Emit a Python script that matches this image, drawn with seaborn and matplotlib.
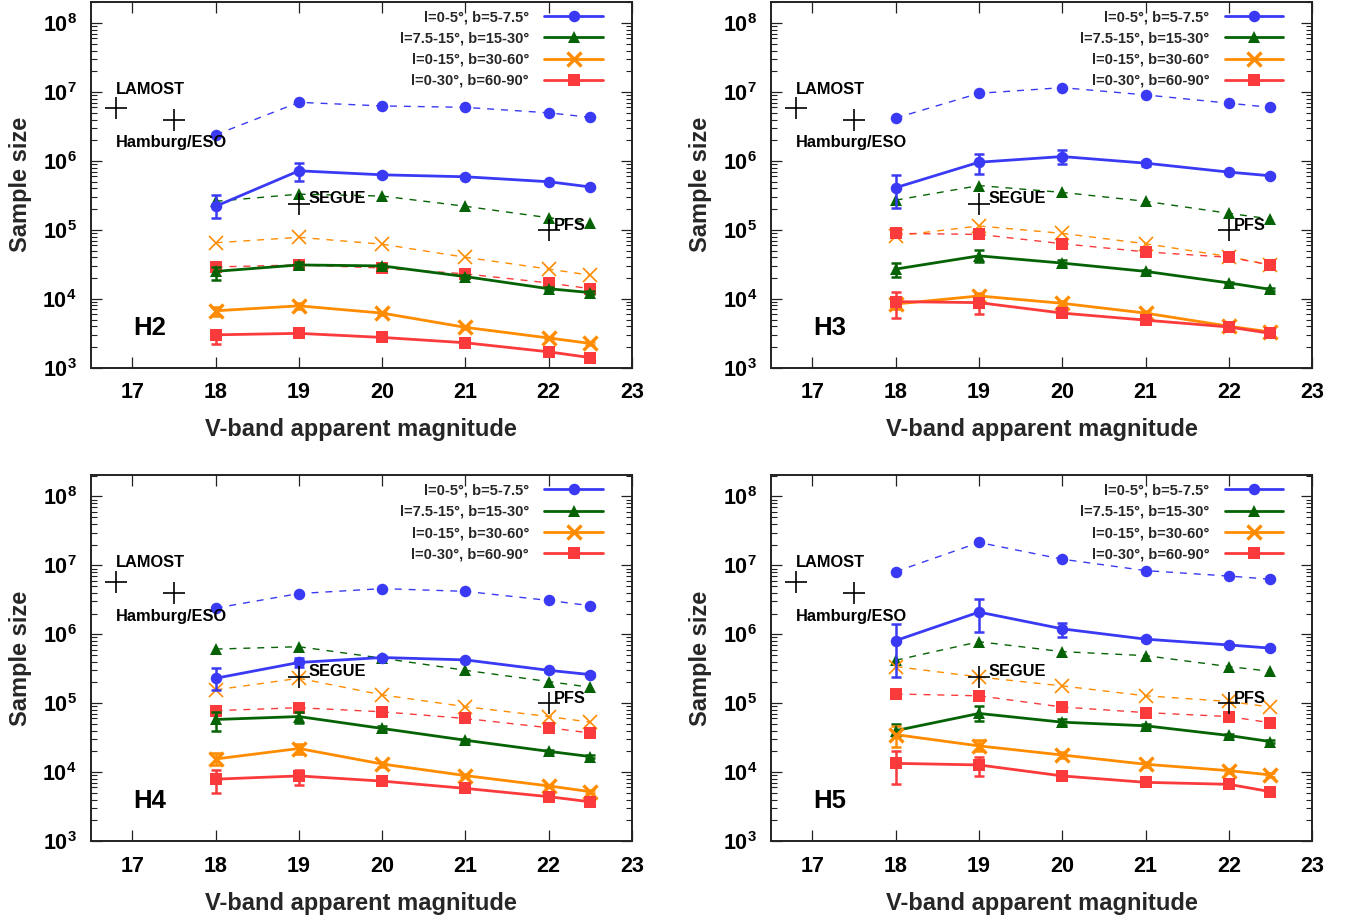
import numpy as np
import pandas as pd
import matplotlib
matplotlib.use("Agg")
import matplotlib.pyplot as plt
import seaborn as sns
from matplotlib.lines import Line2D
from matplotlib.ticker import FixedLocator, FuncFormatter, LogLocator, NullFormatter, NullLocator

# ---------------- data ----------------
mags = [18, 19, 20, 21, 22, 22.5]
series_labels = ["l=0-5°, b=5-7.5°", "l=7.5-15°, b=15-30°",
                 "l=0-15°, b=30-60°", "l=0-30°, b=60-90°"]
series_colors = ["#3a3af4", "#056305", "#ff8c00", "#fb3b3b"]
series_markers = ["o", "^", "x", "s"]
panel_names = ["H2", "H3", "H4", "H5"]

# dashed (upper) curves
H2_dashed = [[2.4e6, 7.1e6, 6.3e6, 6.0e6, 5.0e6, 4.3e6],
             [2.6e5, 3.3e5, 3.1e5, 2.2e5, 1.5e5, 1.28e5],
             [6.5e4, 7.8e4, 6.2e4, 4.0e4, 2.7e4, 2.2e4],
             [2.9e4, 3.1e4, 2.8e4, 2.3e4, 1.7e4, 1.4e4]]
H3_dashed = [[4.2e6, 9.6e6, 1.16e7, 9.1e6, 6.9e6, 6.0e6],
             [2.7e5, 4.4e5, 3.5e5, 2.6e5, 1.74e5, 1.44e5],
             [8.2e4, 1.14e5, 8.9e4, 6.3e4, 4.1e4, 3.1e4],
             [8.9e4, 8.6e4, 6.3e4, 4.8e4, 4.0e4, 3.1e4]]
H4_dashed = [[2.4e6, 3.9e6, 4.6e6, 4.2e6, 3.1e6, 2.6e6],
             [6.1e5, 6.6e5, 4.5e5, 3.0e5, 2.06e5, 1.7e5],
             [1.56e5, 2.3e5, 1.32e5, 8.9e4, 6.4e4, 5.3e4],
             [7.8e4, 8.6e4, 7.5e4, 6.0e4, 4.4e4, 3.7e4]]
H5_dashed = [[8.1e6, 2.15e7, 1.23e7, 8.4e6, 7.0e6, 6.3e6],
             [4.2e5, 7.8e5, 5.6e5, 4.9e5, 3.4e5, 2.9e5],
             [3.4e5, 2.4e5, 1.78e5, 1.28e5, 1.06e5, 8.8e4],
             [1.36e5, 1.28e5, 8.8e4, 7.3e4, 6.4e4, 5.2e4]]

# solid (lower) curves
H2_solid = [[2.2e5, 7.2e5, 6.3e5, 5.9e5, 5.0e5, 4.2e5],
            [2.5e4, 3.1e4, 3.0e4, 2.1e4, 1.4e4, 1.23e4],
            [6.7e3, 7.9e3, 6.2e3, 3.85e3, 2.7e3, 2.25e3],
            [3.0e3, 3.15e3, 2.75e3, 2.3e3, 1.7e3, 1.4e3]]
H3_solid = [[4.1e5, 9.6e5, 1.16e6, 9.3e5, 6.9e5, 6.1e5],
            [2.7e4, 4.2e4, 3.3e4, 2.5e4, 1.7e4, 1.37e4],
            [8.4e3, 1.1e4, 8.6e3, 6.2e3, 4.0e3, 3.3e3],
            [9.1e3, 8.8e3, 6.2e3, 4.9e3, 3.9e3, 3.15e3]]
H4_solid = [[2.3e5, 3.9e5, 4.6e5, 4.25e5, 3.0e5, 2.6e5],
            [5.8e4, 6.4e4, 4.3e4, 2.9e4, 2.0e4, 1.68e4],
            [1.55e4, 2.2e4, 1.31e4, 8.9e3, 6.3e3, 5.2e3],
            [7.9e3, 8.8e3, 7.4e3, 5.8e3, 4.4e3, 3.7e3]]
H5_solid = [[8.1e5, 2.1e6, 1.2e6, 8.5e5, 7.0e5, 6.3e5],
            [4.0e4, 7.1e4, 5.3e4, 4.7e4, 3.4e4, 2.77e4],
            [3.5e4, 2.4e4, 1.77e4, 1.3e4, 1.05e4, 9.1e3],
            [1.34e4, 1.27e4, 8.8e3, 7.1e3, 6.65e3, 5.2e3]]

# error-bar ends of the solid curves (low, high)
H2_lo = [[1.48e5, 5.1e5, 5.8e5, 5.6e5, 4.8e5, 4.0e5],
         [1.9e4, 2.8e4, 2.8e4, 2.0e4, 1.33e4, 1.17e4],
         [5.6e3, 7.2e3, 5.9e3, 3.7e3, 2.6e3, 2.15e3],
         [2.2e3, 2.9e3, 2.6e3, 2.2e3, 1.63e3, 1.34e3]]
H2_hi = [[3.2e5, 9.3e5, 6.8e5, 6.2e5, 5.2e5, 4.4e5],
         [2.9e4, 3.4e4, 3.2e4, 2.2e4, 1.47e4, 1.29e4],
         [7.5e3, 8.6e3, 6.5e3, 4.0e3, 2.8e3, 2.35e3],
         [3.5e3, 3.4e3, 2.9e3, 2.4e3, 1.77e3, 1.46e3]]
H3_lo = [[2.06e5, 6.5e5, 9.1e5, 8.5e5, 6.6e5, 5.8e5],
         [2.05e4, 3.4e4, 3.0e4, 2.35e4, 1.62e4, 1.31e4],
         [7.0e3, 9.9e3, 7.9e3, 5.8e3, 3.8e3, 3.15e3],
         [5.2e3, 6.0e3, 5.5e3, 4.6e3, 3.7e3, 3.0e3]]
H3_hi = [[6.3e5, 1.27e6, 1.42e6, 1.0e6, 7.2e5, 6.4e5],
         [3.3e4, 5.1e4, 3.6e4, 2.65e4, 1.78e4, 1.43e4],
         [1.0e4, 1.22e4, 9.3e3, 6.6e3, 4.2e3, 3.45e3],
         [1.27e4, 1.17e4, 6.9e3, 5.2e3, 4.1e3, 3.3e3]]
H4_lo = [[1.56e5, 3.4e5, 4.3e5, 4.05e5, 2.87e5, 2.5e5],
         [3.9e4, 5.1e4, 3.9e4, 2.75e4, 1.9e4, 1.6e4],
         [1.27e4, 1.83e4, 1.2e4, 8.4e3, 6.0e3, 4.95e3],
         [4.9e3, 6.5e3, 6.8e3, 5.5e3, 4.2e3, 3.55e3]]
H4_hi = [[3.2e5, 4.6e5, 4.9e5, 4.45e5, 3.13e5, 2.7e5],
         [7.5e4, 7.5e4, 4.7e4, 3.05e4, 2.1e4, 1.76e4],
         [1.87e4, 2.6e4, 1.42e4, 9.4e3, 6.6e3, 5.45e3],
         [1.07e4, 1.07e4, 8.0e3, 6.1e3, 4.6e3, 3.85e3]]
H5_lo = [[2.4e5, 1.07e6, 9.2e5, 7.9e5, 6.7e5, 6.0e5],
         [3.3e4, 5.6e4, 4.8e4, 4.4e4, 3.25e4, 2.65e4],
         [2.3e4, 2.0e4, 1.6e4, 1.2e4, 9.8e3, 8.6e3],
         [6.7e3, 8.8e3, 7.8e3, 6.7e3, 6.3e3, 4.95e3]]
H5_hi = [[1.42e6, 3.3e6, 1.48e6, 9.2e5, 7.3e5, 6.6e5],
         [5.0e4, 9.1e4, 5.8e4, 5.0e4, 3.55e4, 2.9e4],
         [4.7e4, 2.9e4, 1.95e4, 1.4e4, 1.12e4, 9.6e3],
         [2.05e4, 1.68e4, 9.9e3, 7.6e3, 7.0e3, 5.5e3]]

# existing surveys (reference points)
survey_names = ["LAMOST", "Hamburg/ESO", "SEGUE", "PFS"]
survey_mag = [16.8, 17.5, 19.0, 22.0]
survey_size = [5.8e6, 4.0e6, 2.4e5, 1.0e5]

panels = [(H2_dashed, H2_solid, H2_lo, H2_hi),
          (H3_dashed, H3_solid, H3_lo, H3_hi),
          (H4_dashed, H4_solid, H4_lo, H4_hi),
          (H5_dashed, H5_solid, H5_lo, H5_hi)]

# ---------------- style ----------------
sns.set_theme(style="ticks")
plt.rcParams["font.family"] = ["Liberation Sans", "DejaVu Sans"]
plt.rcParams["font.weight"] = "bold"
plt.rcParams["axes.labelweight"] = "bold"
plt.rcParams["mathtext.fontset"] = "custom"
plt.rcParams["mathtext.rm"] = "Liberation Sans:bold"
plt.rcParams["mathtext.bf"] = "Liberation Sans:bold"
plt.rcParams["mathtext.default"] = "rm"

W, H = 1351, 919
fig = plt.figure(figsize=(W / 100, H / 100), dpi=100)
axw, axh = 541.3 / W, 366.0 / H
positions = [(90.7 / W, (H - 367.7) / H), (770.8 / W, (H - 367.7) / H),
             (90.7 / W, (H - 841.0) / H), (770.8 / W, (H - 841.0) / H)]

msize = {"o": 8.3, "^": 8.8, "x": 10.0, "s": 8.0}
solid_mew = {"o": 0.0, "^": 0.0, "x": 2.4, "s": 0.0}
dash_mew = {"o": 0.0, "^": 0.0, "x": 1.2, "s": 0.0}

def logfmt(v, pos):
    e = int(round(np.log10(v)))
    return r"$10^{%d}$" % e

for pi, (pos, (dsh, sol, lo, hi)) in enumerate(zip(positions, panels)):
    ax = fig.add_axes([pos[0], pos[1], axw, axh])
    ax.set_yscale("log")
    for k in range(4):
        c = series_colors[k]
        m = series_markers[k]
        df_d = pd.DataFrame({"mag": mags, "n": dsh[k]})
        sns.lineplot(data=df_d, x="mag", y="n", ax=ax, color=c, marker=m,
                     markersize=msize[m], linewidth=1.0,
                     linestyle=(0, (5, 5)), markeredgecolor=c,
                     markeredgewidth=dash_mew[m], errorbar=None, zorder=2)
    for k in range(4):
        c = series_colors[k]
        m = series_markers[k]
        y = np.array(sol[k])
        yl = np.array(lo[k])
        yh = np.array(hi[k])
        ax.errorbar(mags, y, yerr=[y - yl, yh - y], fmt="none", ecolor=c,
                    elinewidth=1.8, capsize=3.6, capthick=1.8, zorder=3)
        df_s = pd.DataFrame({"mag": mags, "n": sol[k]})
        sns.lineplot(data=df_s, x="mag", y="n", ax=ax, color=c, marker=m,
                     markersize=msize[m], linewidth=2.0,
                     markeredgecolor=c, markeredgewidth=solid_mew[m],
                     errorbar=None, zorder=4)
    # surveys
    ax.plot(survey_mag, survey_size, linestyle="none", marker="+",
            markersize=16, markeredgewidth=1.2, color="black", zorder=6)
    tk = dict(fontsize=11.8, fontweight="bold", color="black", zorder=7)
    ax.text(16.80, 9.4e6, survey_names[0], ha="left", va="baseline", **tk)
    ax.text(16.80, 1.58e6, survey_names[1], ha="left", va="baseline", **tk)
    ax.text(19.11, 2.44e5, survey_names[2], ha="left", va="baseline", **tk)
    ax.text(22.06, 1.0e5, survey_names[3], ha="left", va="baseline", **tk)
    ax.text(17.01, 3.0e3, panel_names[pi], ha="left", va="baseline",
            fontsize=18.5, fontweight="bold", color="black", zorder=7)

    ax.set_xlim(16.5, 23)
    ax.set_ylim(1e3, 2.05e8)
    ax.xaxis.set_major_locator(FixedLocator([17, 18, 19, 20, 21, 22, 23]))
    ax.xaxis.set_minor_locator(NullLocator())
    ax.yaxis.set_major_locator(FixedLocator([1e3, 1e4, 1e5, 1e6, 1e7, 1e8]))
    ax.yaxis.set_major_formatter(FuncFormatter(logfmt))
    ax.yaxis.set_minor_locator(LogLocator(base=10, subs=np.arange(2, 10)))
    ax.yaxis.set_minor_formatter(NullFormatter())
    ax.tick_params(which="both", direction="in", top=True, right=True,
                   colors="#222222", labelcolor="black")
    ax.tick_params(which="major", length=8, width=0.9, labelsize=15.5)
    ax.tick_params(which="minor", length=4.5, width=0.8)
    ax.tick_params(axis="x", which="major", pad=10.5)
    ax.tick_params(axis="y", which="major", pad=10)
    for s in ax.spines.values():
        s.set_linewidth(1.4)
        s.set_color("#222222")
    ax.set_xlabel("V-band apparent magnitude", fontsize=17, fontweight="bold")
    ax.set_ylabel("Sample size", fontsize=17, fontweight="bold")
    ax.xaxis.set_label_coords(0.5, -0.138)
    ax.yaxis.set_label_coords(-0.1085, 0.5)

    handles = []
    for k in range(4):
        m = series_markers[k]
        handles.append(Line2D([], [], color=series_colors[k], marker=m,
                              markersize=msize[m],
                              linewidth=2.0, markeredgecolor=series_colors[k],
                              markeredgewidth=solid_mew[m]))
    ax.legend(handles, series_labels, loc="upper right",
              bbox_to_anchor=(0.946, 0.977), frameon=False, markerfirst=False,
              handlelength=4.0, handletextpad=1.05,
              labelspacing=0.5, borderpad=0.0, borderaxespad=0.0,
              numpoints=1, prop={"weight": "bold", "size": 10.5})

fig.savefig("out.png", dpi=100)
